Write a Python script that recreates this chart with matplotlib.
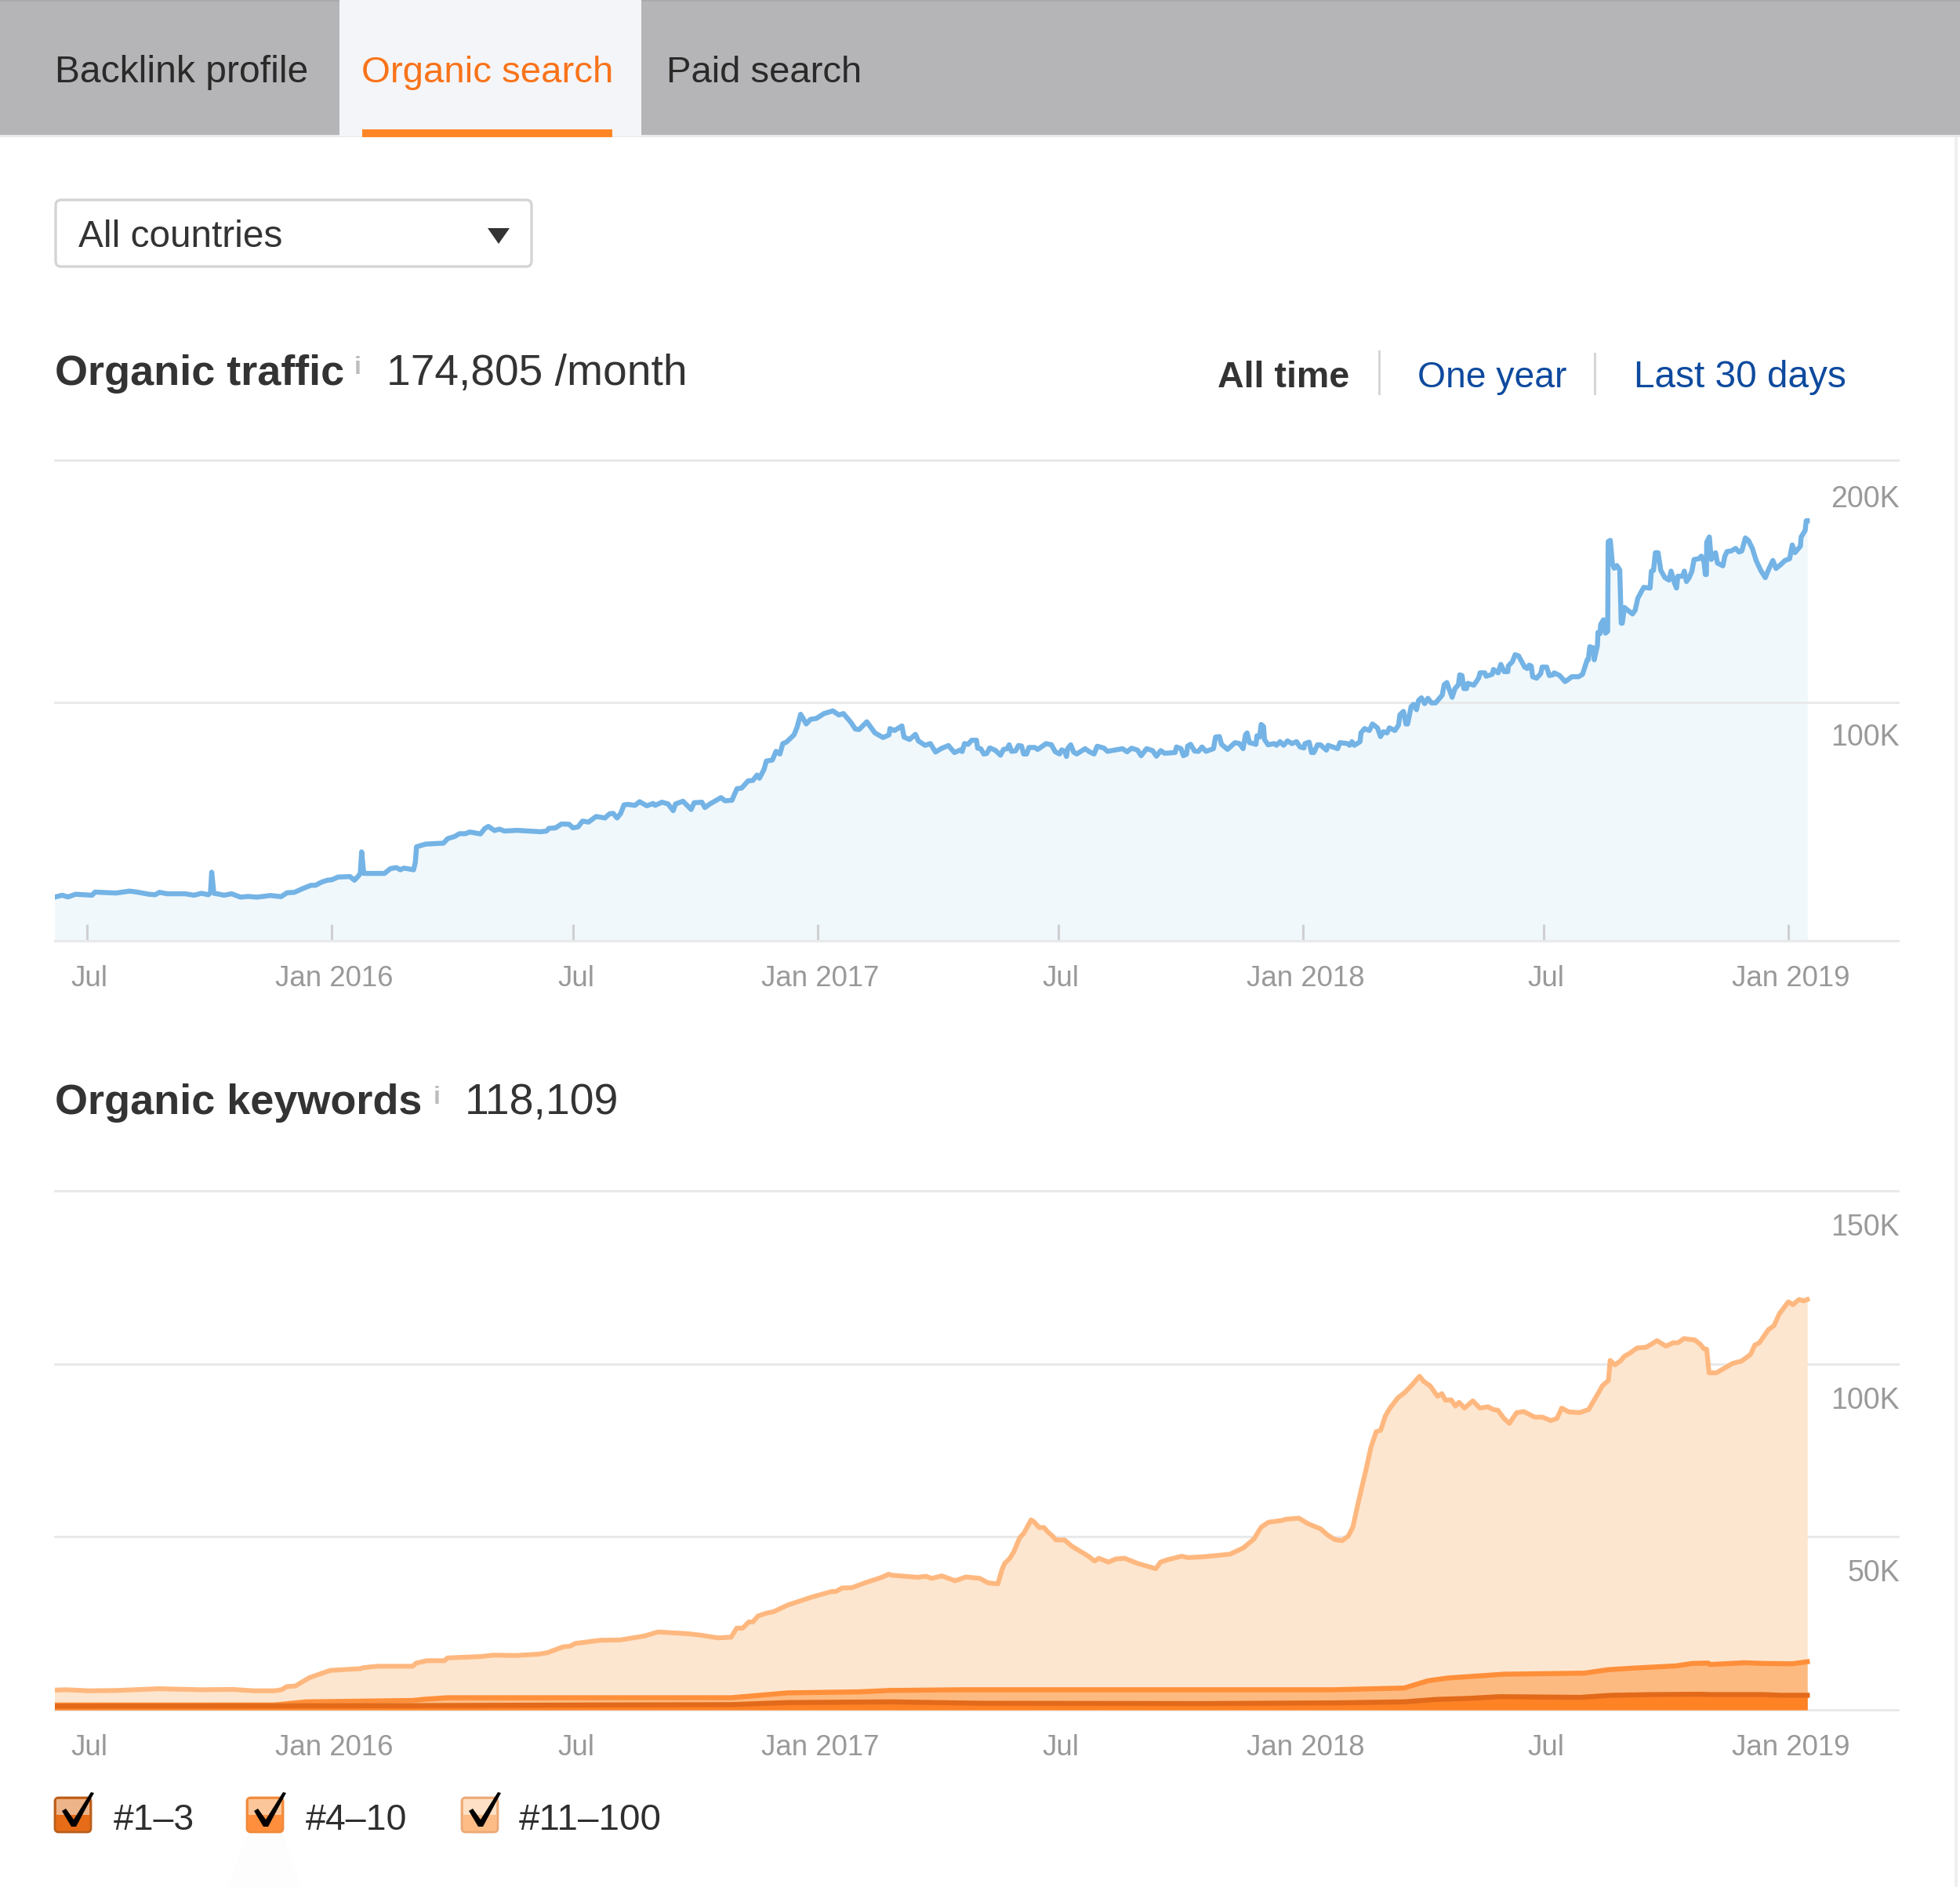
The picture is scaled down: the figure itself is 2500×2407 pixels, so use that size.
import matplotlib
matplotlib.use("Agg")
import matplotlib.pyplot as plt
import pandas as pd
from matplotlib.patches import FancyBboxPatch, Polygon, Rectangle
from matplotlib.transforms import ScaledTranslation

plt.rcParams['font.family'] = ['Liberation Sans', 'DejaVu Sans']

W, H = 2500, 2407
BASE = pd.Timestamp("2015-07-01")

# days after 1 Jul 2015, values in thousands
traffic_days = [
    -24.4, -18.8, -14.3, -8.6, 3.8, 6, 21.8, 32, 37.6, 46.6, 51.2, 54.5, 60.2, 73.7, 80.5, 86.1, 91.3, 92.9, 93.8, 95.4,
    99.7, 103, 108.7, 115.5, 121.1, 127.9, 138, 146, 150.4, 156, 161.7, 168.5, 171.9, 176.4, 180.9, 184.3, 188.8, 197.8, 201.2, 204.6,
    205.6, 206.6, 208.2, 223.8, 228.3, 232.8, 235.7, 238.4, 245.7, 247, 247.9, 254.7, 268.2, 271.2, 276.8, 280.2, 284.7, 288, 296, 299.4,
    302, 306.6, 310.2, 314, 323.2, 341.2, 345.7, 347.5, 352.5, 357, 362.7, 365.6, 369.4, 372.8, 377.3, 383, 389.7, 393.1, 395.8, 398.8,
    401.5, 404, 406.7, 412.3, 415.7, 421.3, 425.8, 427.4, 432.6, 437.1, 441, 442.8, 448.4, 454.5, 456.8, 462.6, 464.9, 468.7, 477, 480,
    485.2, 489, 492.4, 497.4, 501, 504.1, 505.9, 509.3, 511.1, 515.6, 518.4, 521.3, 523.5, 526.2, 531.9, 534.1, 536.9, 538.7, 541.1, 544.3,
    548.8, 554.5, 561.2, 565.7, 569.1, 574.8, 578.1, 580.9, 586.7, 592.8, 598.9, 603.4, 604.1, 607.5, 613.1, 614.7, 618.8, 623.3, 625.5, 630.5,
    634.5, 638.4, 642.5, 648.1, 652.6, 657.1, 658.4, 660.2, 662.9, 665.6, 669.2, 670.1, 672.4, 674.7, 676.9, 679.2, 683.2, 687.3, 689.5, 692.3,
    693.8, 695.6, 698.6, 700.8, 703.1, 704.7, 706.9, 708.7, 713, 715.3, 721.6, 725.6, 728.4, 731.7, 733.3, 735.6, 736.9, 737.8, 740.1, 742.3,
    744.6, 750.9, 754.3, 757.7, 760, 764.9, 767.8, 779.1, 782.5, 785.9, 790.4, 793.1, 797.2, 801.7, 804.6, 807.8, 810.7, 818.6, 819.7, 823.1,
    824.9, 827.2, 828.1, 830.3, 833.3, 836.2, 838.9, 841.9, 847.5, 849.1, 852, 853.6, 858.1, 863.7, 867.1, 869.8, 871.6, 872.8, 874.6, 879.5,
    880.2, 882.2, 883.4, 885.2, 885.9, 888.6, 893.1, 894.9, 897.6, 900.3, 903.2, 906.6, 910, 912.7, 915.6, 916.3, 919.5, 921.3, 923, 925.8,
    928, 932.5, 933.7, 940.9, 942.7, 948.3, 949.9, 951.7, 953.5, 957.8, 958.5, 961.2, 964.8, 967.1, 970.9, 973.2, 975.4, 978.1, 979.9, 984,
    986.7, 987.8, 990.5, 992.3, 993.6, 996.2, 998, 1000.3, 1001.8, 1004, 1006.4, 1008.9, 1011.5, 1014.6, 1019.6, 1021.1, 1023.1, 1024.7, 1027.1, 1029.2,
    1031.8, 1032.8, 1034.5, 1035.9, 1037.9, 1038.9, 1043.4, 1047, 1048.1, 1051.7, 1052.7, 1057.2, 1058.2, 1061.7, 1063.7, 1066.3, 1069, 1069.4, 1072.4, 1074.5,
    1077.1, 1079.5, 1081.6, 1083.6, 1085, 1086.6, 1087.7, 1090.7, 1093.7, 1094.8, 1098.2, 1100.2, 1102.9, 1103.9, 1108, 1112, 1114, 1117.1, 1122.2, 1125.2,
    1128.7, 1129.5, 1130.7, 1133.4, 1134, 1136.4, 1136.8, 1138.4, 1138.8, 1140.9, 1142.5, 1144.1, 1144.5, 1146.1, 1147.6, 1149, 1151, 1153.2, 1154.3, 1155.1,
    1156.7, 1162.8, 1164.8, 1166.8, 1169.9, 1171.3, 1176, 1177, 1178.6, 1180, 1182, 1184.1, 1187.2, 1190.2, 1191.8, 1194.3, 1195.9, 1196.9, 1200.4, 1201.8,
    1203.4, 1205.4, 1207.5, 1209.1, 1212.5, 1214.6, 1216.6, 1217.6, 1218.4, 1218.6, 1220.6, 1222.1, 1225.3, 1226.7, 1230.8, 1232.2, 1233.9, 1236.9, 1240.4, 1243,
    1245, 1247.7, 1250.1, 1253.1, 1255.8, 1259.2, 1262.7, 1265.3, 1268.4, 1270.8, 1274.5, 1277.5, 1281, 1283, 1285, 1289.1, 1289.7, 1292.7, 1293.5, 1294.3,
]
traffic_k = [
    19.6, 20.4, 19.7, 20.8, 20.4, 21.7, 21.3, 22.1, 21.7, 20.8, 20.6, 21.6, 21, 21, 20.4, 21.2, 20.6, 21.6, 29.9, 21.2,
    20.8, 20.4, 21, 19.6, 19.9, 19.6, 20.3, 19.8, 21.4, 21.6, 23, 24.5, 24.5, 25.8, 26.6, 26.8, 27.9, 28.1, 26.6, 28.6,
    29.6, 38.3, 29.4, 29.4, 31.4, 31.8, 30.9, 31.6, 30.9, 34, 40.4, 41.5, 41.9, 43.7, 44.7, 45.8, 45.8, 46.5, 45.7, 48,
    48.8, 47.1, 47.7, 46.9, 47.2, 46.6, 46.9, 48, 48.2, 49.8, 49.7, 48.2, 48.6, 51, 50.6, 52.9, 52.3, 54, 54.2, 52.3,
    54.2, 57.7, 57.9, 57.5, 59, 57.3, 58.3, 57.5, 58.8, 58.1, 55.3, 58.1, 59.2, 55.8, 58.6, 58.8, 56.6, 58.1, 60.7, 59.4,
    59.6, 64.4, 64.6, 67.6, 67.8, 70, 68.7, 72.3, 75.8, 76.2, 79.8, 78.7, 83, 83.6, 86.6, 89.5, 95.1, 93.5, 91.1, 93,
    93.4, 95.4, 96.5, 94.8, 95.4, 91.7, 89, 88.8, 92, 87.4, 85.5, 86.6, 89.2, 88.4, 90.3, 85.7, 84.7, 86.8, 84.1, 82.3,
    83, 79.5, 80.9, 82.2, 79.3, 80.4, 79.7, 83, 82.7, 84.4, 84.4, 81.1, 80.9, 78.7, 78.9, 81.2, 80.3, 78.2, 80.6, 80.9,
    82.5, 79.8, 80, 82.2, 82, 78.7, 78.7, 81.4, 81.4, 80.6, 83, 82.5, 79.7, 78.7, 80.4, 79.8, 77.7, 80.9, 82.5, 79.5,
    78.7, 80.9, 79.6, 78.7, 81.9, 81.2, 79.8, 80.9, 79.6, 81.1, 80.3, 78, 80.9, 80.1, 77.8, 80.1, 79, 79.3, 81.6, 80.9,
    78, 78.6, 82, 82.7, 79.9, 79.8, 81.6, 79.8, 80.9, 85.7, 85.9, 82.7, 80.6, 83.4, 83, 80.9, 86.6, 87.4, 83.4, 82.7,
    86.2, 85.7, 90.9, 90, 84.7, 82.5, 83, 82.3, 83.8, 82.3, 84.1, 83, 83.8, 81.6, 81.2, 83, 83.6, 79.3, 79.3, 82.5,
    82.5, 80.3, 82.3, 80.9, 83.4, 83, 82.3, 83.8, 82.3, 83.8, 87.4, 89.2, 88.4, 91.1, 89.5, 85.9, 87.9, 87.4, 89.5, 88.4,
    90.6, 94.9, 96.3, 91.1, 91.1, 98.2, 99.2, 97, 100.8, 101.9, 99.5, 101.7, 99.8, 99.8, 103, 107.3, 108.2, 105.7, 102.1, 105.7,
    107.3, 111.4, 111.1, 105.7, 105.7, 107.9, 107.1, 110, 112.2, 112.2, 110.8, 111.6, 113.6, 112.2, 115.7, 112.7, 112.7, 115.1, 116.8, 119.7,
    119.2, 116.8, 114.6, 114, 115.4, 115, 110.6, 110, 111.9, 114.6, 114.6, 111.1, 111.4, 112.2, 111.1, 108.6, 109.3, 110.6, 110.6, 111.6,
    117.6, 117.6, 123, 122.5, 117.6, 123.5, 128.9, 128.4, 132.1, 134.1, 128.6, 129.4, 166.4, 166.9, 157.5, 155.4, 156.5, 154.7, 132.7, 132.7,
    139.2, 136.5, 138.1, 143, 146.2, 147.5, 147.2, 154.2, 154.5, 161.8, 161.8, 154.5, 151.5, 150.5, 154.2, 149.4, 147.2, 152.1, 152.1, 154.2,
    149.9, 151.5, 154.2, 159, 159.3, 160.4, 158, 152.8, 152.8, 166.1, 168.3, 159, 161.8, 157.5, 156.4, 160.2, 162.3, 162.5, 163.6, 162.1,
    162.5, 167.9, 166.8, 163.4, 158.6, 154.6, 151.5, 155, 158.6, 155.3, 157, 158.6, 159.3, 165, 161.8, 164.5, 168.3, 171, 175, 175,
]

# keywords, cumulative: #1-3, then #1-3 + #4-10, then all
kw_total_days = [
    -24.8, -15.6, 1.5, 22.6, 54.2, 85.7, 109.4, 125.2, 141, 146.3, 150.2, 156.8, 167.3, 183.1, 196.3, 205.5, 208.2, 218.7, 245, 247.6,
    255.5, 268.7, 271.3, 296.3, 305.5, 322.7, 339.8, 346.3, 358.2, 363.4, 367.4, 374, 385.9, 401, 419, 429.6, 452.1, 461.2, 474.7, 484.6,
    488.8, 493.3, 497.9, 500.9, 504.8, 510.8, 516.8, 527.3, 545.4, 560.4, 563.4, 568, 575.5, 586, 598, 603.1, 605.5, 625.1, 631.1, 635.6,
    643.2, 653.1, 661.2, 671.7, 677.8, 685.3, 688.3, 690.4, 694.3, 697.3, 701.8, 704.8, 710.3, 712.3, 716.3, 719.9, 722.9, 726.5, 728.9, 735.5,
    740.9, 753, 758.1, 761.1, 768.6, 774, 780.6, 790.6, 804.1, 807.7, 813.1, 823.7, 828.2, 838.7, 850, 860, 870, 878, 883.4, 888.8,
    898.3, 902.4, 911.8, 918.6, 928.1, 933.5, 938.9, 944.3, 948.9, 952.4, 956.5, 962.5, 966, 970, 973.3, 976.8, 980.3, 986.3, 991.7, 997.1,
    1002.5, 1005.8, 1010.6, 1016.1, 1019.3, 1022, 1026.4, 1029.6, 1032.3, 1036.4, 1042.6, 1048, 1054, 1058, 1061.5, 1066.1, 1070.2, 1075.6, 1081, 1089.2,
    1095, 1101.3, 1105.9, 1109.5, 1114.9, 1123, 1129.8, 1137.9, 1140, 1144.7, 1146, 1149.5, 1153.6, 1156.8, 1160.9, 1166.3, 1173.1, 1177.1, 1181.2, 1188,
    1193.4, 1197, 1201.5, 1209.6, 1213.7, 1216.4, 1218.6, 1220.4, 1225.9, 1234, 1238, 1244.8, 1251.6, 1254.8, 1258.3, 1265.1, 1269.2, 1273.2, 1280, 1283.5,
    1288.1, 1291.6, 1294.3,
]
kw_total_k = [
    5.7, 5.8, 5.5, 5.6, 6.1, 5.8, 5.9, 5.5, 5.5, 5.8, 6.7, 6.9, 9.3, 11.4, 11.7, 11.9, 12.2, 12.6, 12.6, 13.5,
    14.2, 14.2, 15, 15.4, 15.8, 15.7, 16.1, 16.5, 18.2, 18.4, 19.2, 19.5, 20.1, 20.2, 21.3, 22.5, 22, 21.6, 20.8, 21,
    23.6, 23.6, 25.4, 25.4, 27.1, 27.9, 28.4, 30.3, 32.6, 34.2, 34.2, 35.2, 35.3, 36.8, 38.3, 39.2, 38.9, 38.3, 38.6, 38,
    38.7, 37.3, 38.4, 38, 36.7, 36.4, 40.4, 42.3, 43.8, 45.7, 49.8, 51, 54.9, 54.4, 52.7, 52.7, 51.4, 50.2, 49.1, 49.1,
    47.3, 44.5, 43, 43.8, 42.7, 43.6, 43.8, 42.3, 40.8, 42.7, 43.4, 44.4, 44, 44.2, 44.6, 45, 46.8, 49.4, 52.8, 54.2,
    54.7, 55.1, 55.4, 53.8, 52.3, 50.5, 49.2, 48.9, 50.2, 52.8, 60, 69.8, 75.9, 80.4, 80.8, 84.9, 87.2, 90.2, 91.8, 94,
    96.4, 94.9, 93.6, 90.6, 91.4, 89.5, 89.6, 87.8, 88.9, 87.2, 89.3, 87.2, 87.6, 86.8, 86.6, 84.2, 82.8, 85.9, 86.2, 84.6,
    84.6, 83.6, 84.2, 87.2, 86.1, 85.9, 86.8, 92.1, 93.6, 95.2, 101, 99.7, 100.8, 102.2, 103.1, 104.6, 104.8, 105.7, 106.7, 105.1,
    106.1, 106.1, 107.3, 106.9, 105.7, 104.4, 104.2, 97.4, 97.4, 99.2, 100.1, 100.8, 102.7, 105.4, 106.1, 109.9, 111, 114.4, 117.9, 117.1,
    118.6, 118.2, 118.6,
]
kw_top10_days = [-24.8, 141, 164.7, 245, 255.5, 271.3, 382.6, 485, 506, 527, 581, 604, 657, 838, 936.9, 991, 1009, 1024, 1051, 1066, 1126.4, 1144.5, 1165.5, 1195.6, 1207.7, 1219.7, 1221.2, 1246.8, 1261.8, 1282.9, 1294.3]
kw_top10_k = [1.4, 1.4, 2.3, 2.7, 3.1, 3.5, 3.5, 3.5, 4.2, 4.9, 5.2, 5.6, 5.8, 5.8, 5.8, 6.3, 8.4, 9.2, 9.9, 10.3, 10.6, 11.6, 12.1, 12.7, 13.4, 13.5, 13.1, 13.6, 13.4, 13.3, 13.9]
kw_top3_days = [-24.8, 245, 382.6, 485, 527, 605, 672, 838, 936.9, 991, 1015, 1039, 1063, 1123.4, 1147, 1177.6, 1213.7, 1221.2, 1261.8, 1274, 1294.3]
kw_top3_k = [1.1, 1.2, 1.4, 1.5, 2.1, 2.3, 1.9, 1.8, 2.0, 2.3, 3.0, 3.3, 3.8, 3.6, 4.2, 4.4, 4.5, 4.4, 4.4, 4.2, 4.2]

tick_dates = ["2015-07-01", "2016-01-01", "2016-07-01", "2017-01-01", "2017-07-01", "2018-01-01", "2018-07-01", "2019-01-01"]
tick_labels = ["Jul", "Jan 2016", "Jul", "Jan 2017", "Jul", "Jan 2018", "Jul", "Jan 2019"]
traffic_ticks = [100, 200]
traffic_tick_labels = ["100K", "200K"]
kw_ticks = [50, 100, 150]
kw_tick_labels = ["50K", "100K", "150K"]
legend_labels = ["#1–3", "#4–10", "#11–100"]


def to_dates(days):
    return BASE + pd.to_timedelta(days, unit="D")


def chart_axes(left, top, right, bottom):
    ax = fig.add_axes([left / W, 1 - bottom / H, (right - left) / W, (bottom - top) / H])
    ax.patch.set_alpha(0)
    for side in ["top", "left", "right"]:
        ax.spines[side].set_visible(False)
    ax.spines["bottom"].set_color("#E8E9EA")
    ax.spines["bottom"].set_linewidth(2.2)
    ax.set_axisbelow(True)
    ax.set_xlim(to_dates([-24.2])[0], to_dates([1362.6])[0])
    ax.set_xticks(pd.to_datetime(tick_dates))
    ax.set_xticklabels(tick_labels)
    return ax


def shift_xlabels(ax):
    # tick_params resets the label transforms, so this goes after it
    for lab in ax.get_xticklabels():
        lab.set_transform(lab.get_transform() + ScaledTranslation(0.03, 0, fig.dpi_scale_trans))


def style_y(ax, ticks, labels, offsets):
    ax.set_yticks(ticks)
    ax.set_yticklabels(labels)
    ax.grid(axis="y", color="#E8E9EA", lw=2.2)
    ax.tick_params(axis="y", left=False, labelleft=False, right=False, labelright=True, pad=0,
                   labelsize=27, labelcolor="#999999")
    for g in ax.get_ygridlines():
        g.set_clip_on(False)
    for lab, off in zip(ax.yaxis.get_ticklabels(which="major"), offsets):
        lab.set_ha("right")
        lab.set_va("baseline")
        lab.set_transform(lab.get_transform() + ScaledTranslation(-0.03, -off / 100, fig.dpi_scale_trans))


fig = plt.figure(figsize=(W / 100, H / 100), dpi=100, facecolor="white")

# page chrome in pixel coordinates
bg = fig.add_axes([0, 0, 1, 1])
bg.set_xlim(0, W)
bg.set_ylim(H, 0)
bg.axis("off")

bg.add_patch(Rectangle((0, 0), W, 172, color="#B5B5B7", lw=0))
bg.add_patch(Rectangle((0, 0), W, 2, color="#ABABAD", lw=0))
bg.add_patch(Rectangle((0, 172), W, 3, color="#E8E9EA", lw=0))
bg.add_patch(Rectangle((433, 0), 385, 174, color="#F4F5F8", lw=0))
bg.add_patch(Rectangle((462, 165), 319, 10, color="#FF8625", lw=0))
bg.add_patch(Rectangle((2493, 175), 4, H - 175, color="#EFEFEF", lw=0))

bg.text(70, 105, "Backlink profile", fontsize=34.6, color="#2A2A2A")
bg.text(461, 105, "Organic search", fontsize=34.1, color="#F9731A")
bg.text(850, 105, "Paid search", fontsize=34, color="#2A2A2A")

bg.add_patch(FancyBboxPatch((71, 255), 607, 85, boxstyle="round,pad=0,rounding_size=7",
                            fc="white", ec="#D4D4D4", lw=2.4))
bg.text(100, 315, "All countries", fontsize=34.4, color="#333333")
bg.add_patch(Polygon([(622, 291), (650, 291), (636, 311)], closed=True, color="#333333", lw=0))

bg.text(70, 491, "Organic traffic", fontsize=38.9, fontweight="bold", color="#333333")
bg.text(452, 477, "i", fontsize=23, fontweight="bold", color="#BDBDBD")
bg.text(493, 491, "174,805 /month", fontsize=39.7, color="#333333")
bg.text(1553, 494, "All time", fontsize=33.6, fontweight="bold", color="#333333")
bg.text(1808, 494, "One year", fontsize=33.3, color="#0E4A9E")
bg.text(2084, 494, "Last 30 days", fontsize=34.4, color="#0E4A9E")
bg.add_patch(Rectangle((1758, 447), 3, 57, color="#D6D6D6", lw=0))
bg.add_patch(Rectangle((2033, 450), 3, 54, color="#D6D6D6", lw=0))

bg.text(70, 1421, "Organic keywords", fontsize=38.9, fontweight="bold", color="#333333")
bg.text(553, 1408, "i", fontsize=23, fontweight="bold", color="#BDBDBD")
bg.text(593, 1421, "118,109", fontsize=40, color="#333333")

# organic traffic
ax1 = chart_axes(70, 587, 2421, 1200)
ax1.set_axisbelow("line")
ax1.set_ylim(1.6, 200)
style_y(ax1, traffic_ticks, traffic_tick_labels, [55, 60])
ax1.tick_params(axis="x", direction="in", length=15, width=2.2, color="#CFCFD1", pad=22,
                labelsize=26.4, labelcolor="#999999")
shift_xlabels(ax1)
t_dates = to_dates(traffic_days)
ax1.hlines(1.6, t_dates[0], t_dates[-1], color="#D5D8DB", lw=2.2, clip_on=False, zorder=1.6)
ax1.fill_between(t_dates, traffic_k, 1.6, color="#F0F8FC", lw=0, zorder=1)
ax1.plot(t_dates, traffic_k, color="#74B3E5", lw=4.6, solid_joinstyle="round", zorder=3)

# organic keywords
ax2 = chart_axes(70, 1519, 2421, 2181)
ax2.set_ylim(0, 150)
style_y(ax2, kw_ticks, kw_tick_labels, [57, 57, 57])
ax2.tick_params(axis="x", length=0, pad=22, labelsize=26.4, labelcolor="#999999")
shift_xlabels(ax2)
layers = [
    (kw_total_days, kw_total_k, "#FDE6CF", "#FEB87F", 4.4),
    (kw_top10_days, kw_top10_k, "#FDBA80", "#FF8F3A", 4.6),
    (kw_top3_days, kw_top3_k, "#FF8225", "#E26A1A", 4.6),
]
for i, (days, vals, fill, line, lw) in enumerate(layers):
    d = to_dates(days)
    ax2.fill_between(d, vals, 0, color=fill, lw=0, zorder=2 + i)
    ax2.plot(d, vals, color=line, lw=lw, solid_joinstyle="round", zorder=2.5 + i)

# legend checkboxes
boxes = [
    (70, "#B85F1C", "#E76C17", "#EDB48A", 145, 33.3),
    (315, "#F08A3C", "#FF8F3C", "#FBC79A", 390, 33.5),
    (589, "#EBAA78", "#FDBC85", "#FDE0C5", 662, 34.2),
]
for (x, edge, low, high, tx, fs), label in zip(boxes, legend_labels):
    bg.add_patch(FancyBboxPatch((x, 2293), 46, 44, boxstyle="round,pad=0,rounding_size=5",
                                fc=low, ec=edge, lw=2))
    bg.add_patch(Rectangle((x + 2, 2295), 42, 20, color=high, lw=0))
    bg.add_patch(Polygon([(x + 9, 2310), (x + 14, 2307), (x + 24, 2321), (x + 46, 2286), (x + 50, 2287),
                          (x + 27, 2330), (x + 21, 2330)], closed=True, color="black", lw=0, zorder=4))
    bg.text(tx, 2334, label, fontsize=fs, color="#2E2E2E")
bg.add_patch(Polygon([(316, 2340), (360, 2340), (385, H), (290, H)], closed=True, color="#FDFDFD", lw=0))

fig.savefig("out.png", dpi=100)
